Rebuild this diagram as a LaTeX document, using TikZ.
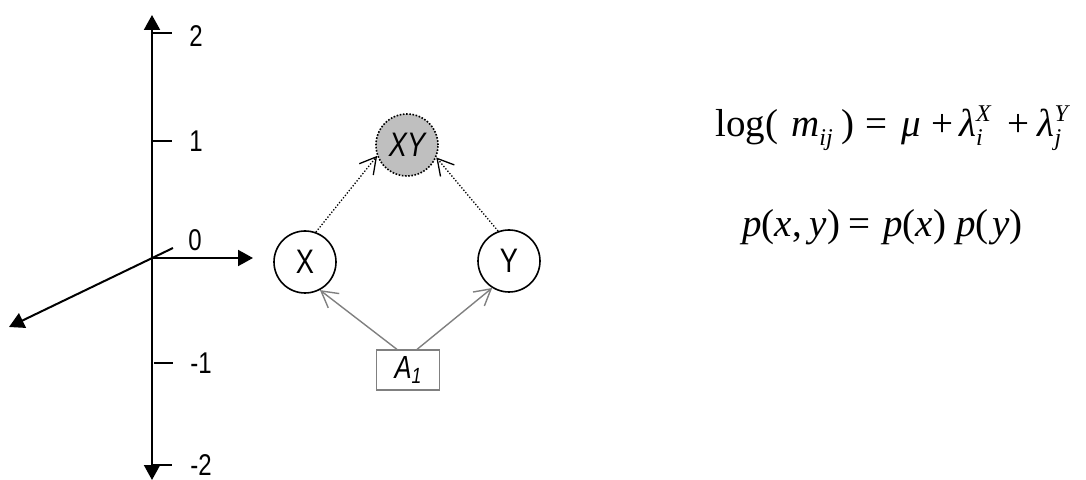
\documentclass[tikz,border=0pt]{standalone}
\usepackage{fontspec}
\newfontfamily\narrowsf[FakeStretch=0.8]{Liberation Sans}
\newfontfamily\timesf{Liberation Serif}
\usetikzlibrary{arrows.meta}
\tikzset{myAxisLine/.style={line width=1pt,color=black}}
\tikzset{myAxisTip/.style={-{Triangle[length=7.5pt,width=8pt]}}}
\tikzset{myTick/.style={line width=0.8pt,color=black}}
\tikzset{myTickLabel/.style={font=\narrowsf\fontsize{15}{17}\selectfont}}
\tikzset{myVar/.style={circle,draw,line width=0.8pt,minimum size=31pt,inner sep=0pt,font=\narrowsf\fontsize{17}{19}\selectfont}}
\tikzset{myInter/.style={myVar,fill=black!25,dash pattern=on 0.8pt off 0.8pt,font=\narrowsf\itshape\fontsize{17}{19}\selectfont}}
\tikzset{myFactor/.style={rectangle,draw=black!50,line width=0.6pt,minimum width=31.5pt,minimum height=20pt,inner sep=0pt,font=\narrowsf\itshape\fontsize{16}{18}\selectfont}}
\tikzset{myDotArrow/.style={line width=0.65pt,dash pattern=on 0.65pt off 0.9pt,-{Straight Barb[length=8pt,width=9pt]}}}
\tikzset{myGrayArrow/.style={line width=0.7pt,color=black!50,-{Straight Barb[length=8pt,width=9pt]}}}
\tikzset{myEq/.style={anchor=base west,inner sep=0pt,font=\timesf\fontsize{19.5}{22}\selectfont}}
\newcommand{\ssc}[1]{{\fontsize{12}{13}\selectfont\itshape #1}}
\newcommand{\sbs}[1]{\raisebox{-0.45ex}{\ssc{#1}}}
\newcommand{\sbsp}[2]{\rlap{\raisebox{-0.45ex}{\ssc{#1}}}\raisebox{0.85ex}{\ssc{#2}}}
\newcommand{\hs}[1]{\hspace{#1pt}}

\begin{document}
\begin{tikzpicture}[x=0.5pt,y=-0.5pt]
        \useasboundingbox (0,0) rectangle (1086,480);
		% axes
		\coordinate (O) at (152,258);
		\coordinate (topTip) at (152,15);
		\coordinate (botTip) at (152,480);
		\coordinate (rightTip) at (253,258);
		\coordinate (diagEnd) at (173,248);
		\coordinate (diagTip) at (9,327);
		\draw[myAxisLine,myAxisTip](O)--(topTip);
		\draw[myAxisLine,myAxisTip](O)--(botTip);
		\draw[myAxisLine,myAxisTip](O)--(rightTip);
		\draw[myAxisLine,myAxisTip](diagEnd)--(diagTip);
		\draw[myTick](152,33)--(172,33);
		\draw[myTick](152,141)--(172,141);
		\draw[myTick](154,363)--(173,363);
		\draw[myTick](152,465)--(172,465);
		\node[myTickLabel] (lab2) at (196,36) {2};
		\node[myTickLabel] (lab1) at (196,141) {1};
		\node[myTickLabel] (lab0) at (195,240) {0};
		\node[myTickLabel] (labm1) at (201,363) {-1};
		\node[myTickLabel] (labm2) at (201,465) {-2};
		% graph
		\node[myVar] (X) at (305,262) {X};
		\node[myVar] (Y) at (509,261) {Y};
		\node[myInter] (XY) at (407,145) {XY};
		\node[myFactor] (A1) at (408,370) {A\raisebox{-0.35ex}{\fontsize{11}{12}\selectfont 1}};
		\draw[myDotArrow](X.70)--(XY.200);
		\draw[myDotArrow](Y.110)--(XY.337);
		\draw[myGrayArrow]([xshift=-5.5pt]A1.north)--(X.298);
		\draw[myGrayArrow]([xshift=4.5pt]A1.north)--(Y.238);
		% equations
		\node[myEq] (eqLog) at (715,137) {log(\hs{6.5}\textit{m}\sbs{ij}\hs{4.5})\hs{5.5}=\hs{7}\textit{μ}\hs{5}+\hs{3}\textit{λ}\sbsp{i}{X}\hs{8.5}+\hs{4}\textit{λ}\sbsp{j}{Y}};
		\node[myEq] (eqProd) at (742,237) {\textit{p}(\textit{x},\hs{4}\textit{y})\hs{4}=\hs{6.5}\textit{p}(\textit{x})\hs{5}\textit{p}(\hs{2}\textit{y})};
	\end{tikzpicture}
\end{document}
